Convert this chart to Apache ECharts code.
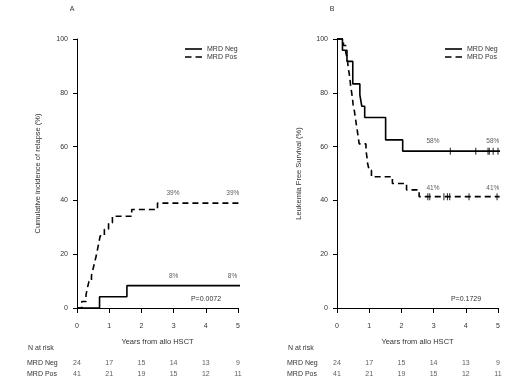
<!DOCTYPE html>
<html><head><meta charset="utf-8">
<script src="https://cdn.jsdelivr.net/npm/echarts@6/dist/echarts.min.js"></script>
<style>html,body{margin:0;padding:0;background:#fff}#c{width:520px;height:390px}</style>
</head><body><div id="c"></div>
<script>
// ---- data ----
const xTicks = [0, 1, 2, 3, 4, 5];
const cirNeg = [[0,0],[0.7,4.2],[1.55,8.3],[5.2,8.3]];
const cirPos = [[0,0],[0.15,2.4],[0.28,4.9],[0.32,7.3],[0.37,9.8],[0.45,12.2],[0.5,14.6],[0.55,17.1],[0.6,19.5],[0.64,22.0],[0.68,24.4],[0.72,26.8],[0.85,29.3],[0.98,31.7],[1.1,34.1],[1.7,36.6],[2.5,39.0],[5.2,39.0]];
const lfsNeg = [[0,100],[0.17,95.8],[0.31,91.7],[0.49,83.3],[0.71,79.2],[0.77,75.0],[0.86,70.8],[1.51,62.5],[2.04,58.3],[5.1,58.3]];
const lfsPos = [[0,100],[0.2,97.6],[0.27,95.1],[0.32,92.7],[0.34,90.2],[0.37,87.8],[0.4,85.4],[0.42,82.9],[0.45,80.5],[0.48,78.0],[0.5,75.6],[0.54,73.2],[0.57,70.7],[0.6,68.3],[0.63,65.9],[0.66,63.4],[0.69,61.0],[0.9,58.5],[0.93,56.1],[0.95,53.7],[1.0,51.2],[1.07,48.8],[1.72,46.3],[2.16,43.9],[2.55,41.4],[5.05,41.4]];
const lfsNegCensor = [3.52, 4.31, 4.69, 4.73, 4.85, 5.0];
const lfsPosCensor = [2.82, 2.88, 3.32, 3.43, 3.5, 4.1, 4.97];
const cirLabels = [[2.98,42.7,'39%'],[4.84,42.7,'39%'],[3.0,11.9,'8%'],[4.83,11.9,'8%']];
const lfsLabels = [[2.98,62.1,'58%'],[4.84,62.1,'58%'],[2.98,44.7,'41%'],[4.84,44.7,'41%']];
const riskGroups = ['MRD Neg', 'MRD Pos'];
const riskNeg = [24, 17, 15, 14, 13, 9];
const riskPos = [41, 21, 19, 15, 12, 11];
const pLeft = 'P=0.0072';
const pRight = 'P=0.1729';

// ---- chart ----
const FONT = 'Liberation Sans, Arial, sans-serif';
const TXT = '#333';
const chart = echarts.init(document.getElementById('c'));

function plotX(gi) {
  return {
    gridIndex: gi, type: 'value', min: 0, max: 5, interval: 1,
    axisLine: {show: true, lineStyle: {color: '#000', width: 1}},
    axisTick: {show: true, length: 5, lineStyle: {color: '#000'}},
    axisLabel: {fontSize: 7, color: TXT, fontFamily: FONT, margin: 15},
    splitLine: {show: false},
    name: 'Years from allo HSCT', nameLocation: 'middle', nameGap: 30,
    nameTextStyle: {fontSize: 7.5, color: TXT, fontFamily: FONT}
  };
}
function plotY(gi, name, gap) {
  return {
    gridIndex: gi, type: 'value', min: 0, max: 100, interval: 20,
    axisLine: {show: true, lineStyle: {color: '#000', width: 1}},
    axisTick: {show: true, length: 4, lineStyle: {color: '#000'}},
    axisLabel: {fontSize: 7, color: TXT, fontFamily: FONT, margin: 9},
    splitLine: {show: false},
    name: name, nameLocation: 'middle', nameGap: gap, nameRotate: 90,
    nameTextStyle: {fontSize: 7.5, color: TXT, fontFamily: FONT}
  };
}
function riskX(gi) {
  return {gridIndex: gi, type: 'value', min: 0, max: 5, show: false};
}
function riskY(gi) {
  return {
    gridIndex: gi, type: 'category', data: riskGroups, inverse: true,
    axisLine: {show: false}, axisTick: {show: false}, splitLine: {show: false},
    axisLabel: {fontSize: 7, color: TXT, fontFamily: FONT, align: 'left', margin: 50}
  };
}
function line(name, data, xi, dashed) {
  return {
    name: name, type: 'line', xAxisIndex: xi, yAxisIndex: xi, data: data,
    step: 'end', symbol: 'none', clip: false, silent: true,
    itemStyle: {color: '#000'},
    lineStyle: {color: '#000', width: 1.6, type: dashed ? [6, 4] : 'solid'}
  };
}
function censor(xs, yval, xi) {
  return {
    type: 'scatter', xAxisIndex: xi, yAxisIndex: xi, silent: true,
    data: xs.map(x => [x, yval]), symbol: 'rect', symbolSize: [1.1, 7],
    itemStyle: {color: '#000'}
  };
}
function pctLabels(arr, xi) {
  return {
    type: 'scatter', xAxisIndex: xi, yAxisIndex: xi, silent: true, symbolSize: 0,
    data: arr.map(d => ({value: [d[0], d[1]], label: {formatter: d[2]}})),
    label: {show: true, position: 'inside', fontSize: 6.5, color: TXT, fontFamily: FONT}
  };
}
function riskSeries(xi) {
  const d = [];
  xTicks.forEach((t, i) => { d.push([t, riskGroups[0], riskNeg[i]]); d.push([t, riskGroups[1], riskPos[i]]); });
  return {
    type: 'scatter', xAxisIndex: xi, yAxisIndex: xi, silent: true, symbolSize: 0,
    data: d,
    label: {show: true, position: 'inside', formatter: p => p.value[2], fontSize: 7, color: TXT, fontFamily: FONT}
  };
}
function legend(left) {
  return {
    left: left, top: 40, orient: 'vertical', itemWidth: 17, itemHeight: 6, itemGap: 0,
    symbolKeepAspect: true,
    data: [
      {name: 'MRD Neg', icon: 'path://M0,0H17V1.6H0Z'},
      {name: 'MRD Pos', icon: 'path://M0,0H6.5V1.6H0ZM10.5,0H17V1.6H10.5Z'}
    ],
    selectedMode: false, itemStyle: {color: '#000', borderWidth: 0},
    textStyle: {fontSize: 7, color: TXT, fontFamily: FONT, lineHeight: 8}
  };
}
function txt(x, y, s, size) {
  return {type: 'text', x: x, y: y, style: {text: s, fontSize: size || 7, fill: TXT, fontFamily: FONT, align: 'center', verticalAlign: 'middle'}};
}

chart.setOption({
  animation: false,
  backgroundColor: '#fff',
  grid: [
    {left: 77, top: 39, width: 161, height: 269},
    {left: 337, top: 39, width: 161, height: 269},
    {left: 77, top: 357, width: 161, height: 23},
    {left: 337, top: 357, width: 161, height: 23}
  ],
  xAxis: [plotX(0), plotX(1), riskX(2), riskX(3)],
  yAxis: [plotY(0, 'Cumulative incidence of relapse (%)', 35), plotY(1, 'Leukemia Free Survival (%)', 34), riskY(2), riskY(3)],
  legend: [legend(180), legend(440)],
  series: [
    line('MRD Neg', cirNeg, 0, false),
    line('MRD Pos', cirPos, 0, true),
    pctLabels(cirLabels, 0),
    line('MRD Neg', lfsNeg, 1, false),
    line('MRD Pos', lfsPos, 1, true),
    censor(lfsNegCensor, lfsNeg[lfsNeg.length - 1][1], 1),
    censor(lfsPosCensor, lfsPos[lfsPos.length - 1][1], 1),
    pctLabels(lfsLabels, 1),
    riskSeries(2),
    riskSeries(3)
  ],
  graphic: [
    txt(72, 9, 'A'), txt(332, 9, 'B'),
    txt(206, 299, pLeft), txt(466, 299, pRight),
    {type: 'text', x: 28, y: 348, style: {text: 'N at risk', fontSize: 7, fill: TXT, fontFamily: FONT, align: 'left', verticalAlign: 'middle'}},
    {type: 'text', x: 288, y: 348, style: {text: 'N at risk', fontSize: 7, fill: TXT, fontFamily: FONT, align: 'left', verticalAlign: 'middle'}}
  ]
});
</script></body></html>
